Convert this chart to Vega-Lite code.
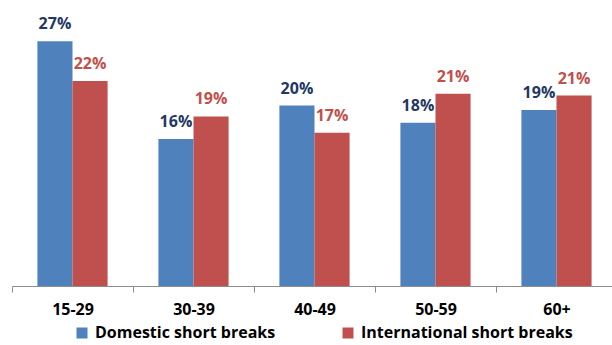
{
  "$schema": "https://vega.github.io/schema/vega-lite/v6.json",
  "autosize": "none",
  "width": 600,
  "height": 272,
  "padding": {"left": 12, "top": 14, "right": 0, "bottom": 59},
  "background": "white",
  "config": {"view": {"stroke": null}, "font": "Open Sans"},
  "data": {
    "values": [
      {"age": "15-29", "series": "Domestic short breaks", "value": 27.0, "label": "27%"},
      {"age": "15-29", "series": "International short breaks", "value": 22.6, "label": "22%"},
      {"age": "30-39", "series": "Domestic short breaks", "value": 16.2, "label": "16%"},
      {"age": "30-39", "series": "International short breaks", "value": 18.7, "label": "19%"},
      {"age": "40-49", "series": "Domestic short breaks", "value": 19.9, "label": "20%"},
      {"age": "40-49", "series": "International short breaks", "value": 16.9, "label": "17%"},
      {"age": "50-59", "series": "Domestic short breaks", "value": 18.0, "label": "18%"},
      {"age": "50-59", "series": "International short breaks", "value": 21.2, "label": "21%"},
      {"age": "60+", "series": "Domestic short breaks", "value": 19.4, "label": "19%"},
      {"age": "60+", "series": "International short breaks", "value": 21.0, "label": "21%"}
    ]
  },
  "encoding": {
    "x": {
      "field": "age",
      "type": "nominal",
      "sort": null,
      "scale": {"range": [0, 605], "paddingInner": 0.42, "paddingOuter": 0.21},
      "axis": {
        "title": null,
        "labelAngle": 0,
        "labelFont": "Open Sans",
        "labelFontSize": 16,
        "labelFontWeight": "bold",
        "labelColor": "#000000",
        "labelPadding": 9,
        "domainColor": "#8C8C8C",
        "tickColor": "#8C8C8C",
        "tickSize": 6,
        "tickOffset": -60.5,
        "labelOffset": 60.5,
        "grid": false
      }
    },
    "xOffset": {"field": "series", "type": "nominal", "sort": null},
    "y": {
      "field": "value",
      "type": "quantitative",
      "scale": {"domain": [0, 30]},
      "axis": null
    }
  },
  "layer": [
    {
      "mark": {"type": "bar"},
      "encoding": {
        "color": {
          "field": "series",
          "type": "nominal",
          "sort": null,
          "scale": {"range": ["#4F81BD", "#C0504D"]},
          "legend": {
            "title": null,
            "orient": "none",
            "direction": "horizontal",
            "columns": 2,
            "legendX": 62,
            "legendY": 311,
            "padding": 0,
            "columnPadding": 64,
            "symbolType": "square",
            "symbolSize": 121,
            "symbolStrokeWidth": 0,
            "symbolOpacity": 1,
            "labelFont": "Open Sans",
            "labelFontSize": 16,
            "labelFontWeight": "bold",
            "labelColor": "#000000",
            "labelLimit": 400,
            "labelOffset": 5
          }
        }
      }
    },
    {
      "mark": {"type": "text", "baseline": "alphabetic", "dy": -12, "font": "Open Sans", "fontSize": 16, "fontWeight": "bold"},
      "encoding": {
        "text": {"field": "label"},
        "color": {
          "field": "series",
          "type": "nominal",
          "sort": null,
          "scale": {"range": ["#1F3864", "#C0504D"]},
          "legend": null
        }
      }
    }
  ],
  "resolve": {"scale": {"color": "independent"}}
}
